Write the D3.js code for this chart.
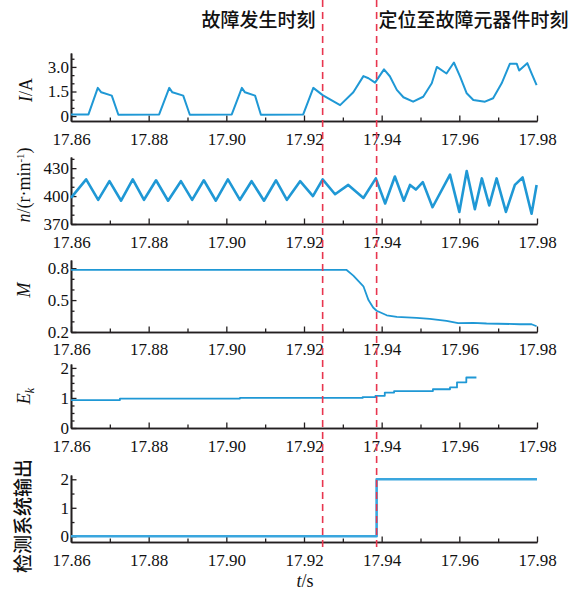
<!DOCTYPE html>
<html>
<head>
<meta charset="utf-8">
<script src="https://cdn.jsdelivr.net/npm/d3@7"></script>
<style>
body { margin: 0; background: #fff; }
</style>
</head>
<body>
<svg></svg>
<script>
var xTicks = [17.86, 17.88, 17.90, 17.92, 17.94, 17.96, 17.98];
var xMinor = [17.87, 17.89, 17.91, 17.93, 17.95, 17.97];
var faultTime = 17.9248, locateTime = 17.9387;

// [t, value]
var currentPts = [
    [17.8600, 0.10], [17.8645, 0.10], [17.8669, 1.72], [17.8678, 1.45], [17.8705, 1.25], [17.8722, 0.08],
    [17.8827, 0.10], [17.8853, 1.72], [17.8861, 1.45], [17.8889, 1.25], [17.8906, 0.08],
    [17.9014, 0.10], [17.9040, 1.72], [17.9048, 1.45], [17.9074, 1.25], [17.9089, 0.08],
    [17.9198, 0.10], [17.9224, 1.72], [17.9248, 1.28], [17.9258, 1.14], [17.9293, 0.67],
    [17.9327, 1.45], [17.9353, 2.44], [17.9366, 2.31], [17.9383, 2.04], [17.9406, 2.85],
    [17.9421, 2.43], [17.9439, 1.60], [17.9456, 1.15], [17.9481, 0.88], [17.9507, 1.18],
    [17.9529, 2.00], [17.9542, 3.00], [17.9567, 2.60], [17.9586, 3.27], [17.9602, 2.41],
    [17.9619, 1.39], [17.9636, 0.98], [17.9666, 0.88], [17.9687, 1.09], [17.9709, 2.00],
    [17.9730, 3.19], [17.9748, 3.19], [17.9754, 2.78], [17.9775, 3.23], [17.9786, 2.60],
    [17.9799, 1.89]
];

var speedPts = [
    [17.8600, 398], [17.8639, 418], [17.8670, 396], [17.8699, 416], [17.8729, 395],
    [17.8759, 418], [17.8788, 396], [17.8819, 417], [17.8850, 395], [17.8883, 416],
    [17.8912, 396], [17.8942, 417], [17.8973, 395], [17.9004, 418], [17.9035, 396],
    [17.9065, 416], [17.9097, 395], [17.9128, 417], [17.9156, 396], [17.9190, 416],
    [17.9223, 400], [17.9248, 418], [17.9280, 402], [17.9314, 412], [17.9353, 398],
    [17.9385, 419], [17.9409, 392], [17.9434, 421], [17.9457, 395], [17.9473, 412],
    [17.9488, 407], [17.9506, 415], [17.9531, 388], [17.9576, 423], [17.9600, 383],
    [17.9619, 427], [17.9640, 386], [17.9658, 419], [17.9677, 390], [17.9696, 419],
    [17.9720, 383], [17.9743, 412], [17.9763, 420], [17.9786, 381], [17.9799, 412]
];

var mPts = [
    [17.8600, 0.785], [17.9309, 0.785], [17.9327, 0.73], [17.9353, 0.63], [17.9366, 0.50],
    [17.9378, 0.43], [17.9387, 0.40], [17.9413, 0.357], [17.9439, 0.342], [17.9490, 0.333],
    [17.9524, 0.323], [17.9567, 0.305], [17.9597, 0.283], [17.9636, 0.286], [17.9670, 0.280],
    [17.9756, 0.273], [17.9786, 0.273], [17.9799, 0.254]
];

var ekPts = [
    [17.8600, 0.93], [17.8726, 0.98], [17.9035, 1.00], [17.9351, 1.03], [17.9384, 1.07],
    [17.9408, 1.18], [17.9432, 1.23], [17.9532, 1.29], [17.9576, 1.35], [17.9594, 1.52],
    [17.9618, 1.68], [17.9644, 1.68]
];

var outputPts = [[17.8600, 0], [17.9387, 2], [17.9800, 2]];

var svgWidth = 583, svgHeight = 595, left = 71, right = 537;
var blue = '#1f98d5', axisColor = '#231f20';
var serif = '"Liberation Serif", "Times New Roman", Times, "DejaVu Serif", serif';
var cjk = '"Noto Sans CJK SC", sans-serif';

var svg = d3.select('svg')
    .attr('width', svgWidth)
    .attr('height', svgHeight)
    .style('background-color', 'white');

var x = d3.scaleLinear().domain([17.86, 17.98]).range([left, right]);

var panels = [
    { top: 53, bottom: 121, pad: 12, domain: [-0.3, 3.85], ticks: [0, 1.5, 3.0], minor: [0.5, 1, 2, 2.5, 3.5],
      fmt: function(d) { return d === 0 ? '0' : d.toFixed(1); }, data: currentPts, width: 2, curve: d3.curveLinear },
    { top: 157, bottom: 224, pad: 12, domain: [370, 442], ticks: [370, 400, 430], minor: [380, 390, 410, 420, 440],
      fmt: d3.format('d'), data: speedPts, width: 2.6, curve: d3.curveLinear },
    { top: 260, bottom: 332, pad: 11, domain: [0.2, 0.877], ticks: [0.2, 0.5, 0.8], minor: [0.3, 0.4, 0.6, 0.7],
      fmt: d3.format('.1f'), data: mPts, width: 1.8, curve: d3.curveLinear },
    { top: 364, bottom: 428, pad: 12, domain: [0, 2.13], ticks: [0, 1, 2], minor: [0.25, 0.5, 0.75, 1.25, 1.5, 1.75],
      fmt: d3.format('d'), data: ekPts, width: 1.8, curve: d3.curveStepAfter },
    { top: 475, bottom: 542, pad: 12, domain: [-0.2, 2.15], ticks: [0, 1, 2], minor: [0.5, 1.5],
      fmt: d3.format('d'), data: outputPts, width: 2.6, curve: d3.curveStepAfter, color: '#3aa6de' }
];

panels.forEach(function(p) {
    var y = d3.scaleLinear().domain(p.domain).range([p.bottom, p.top]);
    var g = svg.append('g');

    // x axis, ticks pointing up
    g.append('g')
        .attr('transform', 'translate(0,' + p.bottom + ')')
        .call(d3.axisBottom(x).tickValues(xMinor).tickSizeInner(-3.5).tickSizeOuter(0).tickFormat(''));
    g.append('g')
        .attr('transform', 'translate(0,' + p.bottom + ')')
        .call(d3.axisBottom(x).tickValues(xTicks).tickSizeInner(-5.5).tickSizeOuter(0)
            .tickPadding(p.pad).tickFormat(d3.format('.2f')));

    // y axis, ticks pointing right
    g.append('g')
        .attr('transform', 'translate(' + left + ',0)')
        .call(d3.axisLeft(y).tickValues(p.minor).tickSizeInner(-3.5).tickSizeOuter(0).tickFormat(''));
    g.append('g')
        .attr('transform', 'translate(' + left + ',0)')
        .call(d3.axisLeft(y).tickValues(p.ticks).tickSizeInner(-5.5).tickSizeOuter(0)
            .tickPadding(2).tickFormat(p.fmt));

    g.selectAll('g').attr('font-family', null);
    g.selectAll('.domain').attr('stroke', axisColor).attr('stroke-width', 1.6);
    g.selectAll('.tick line').attr('stroke', axisColor).attr('stroke-width', 1.3);
    g.selectAll('.tick text')
        .attr('fill', '#111')
        .attr('font-family', serif)
        .attr('font-size', 17);

    var line = d3.line()
        .x(function(d) { return x(d[0]); })
        .y(function(d) { return y(d[1]); })
        .curve(p.curve);

    g.append('path')
        .datum(p.data)
        .attr('d', line)
        .attr('fill', 'none')
        .attr('stroke', p.color || blue)
        .attr('stroke-width', p.width)
        .attr('stroke-linejoin', 'round');
});

// dashed time markers
[faultTime, locateTime].forEach(function(t) {
    svg.append('line')
        .attr('x1', x(t)).attr('x2', x(t))
        .attr('y1', 0).attr('y2', 550)
        .attr('stroke', '#e8364f')
        .attr('stroke-width', 1.6)
        .attr('stroke-dasharray', '7,5');
});

// top annotations
svg.append('text')
    .attr('x', x(faultTime) - 7).attr('y', 27)
    .attr('text-anchor', 'end')
    .attr('font-family', cjk).attr('font-size', 19).attr('font-weight', 500)
    .attr('fill', '#111')
    .text('故障发生时刻');
svg.append('text')
    .attr('x', x(locateTime) + 2).attr('y', 27)
    .attr('font-family', cjk).attr('font-size', 19).attr('font-weight', 500)
    .attr('fill', '#111')
    .text('定位至故障元器件时刻');

// y labels
function yLabel(cx, cy) {
    return svg.append('text')
        .attr('transform', 'translate(' + cx + ',' + cy + ') rotate(-90)')
        .attr('text-anchor', 'middle')
        .attr('fill', '#111')
        .attr('font-family', serif)
        .attr('font-size', 18);
}

var l1 = yLabel(32, 90);
l1.append('tspan').attr('font-style', 'italic').text('I');
l1.append('tspan').text('/A');

var l2 = yLabel(30, 185);
l2.append('tspan').attr('font-style', 'italic').text('n');
l2.append('tspan').text('/(r·min');
l2.append('tspan').attr('dy', -6).attr('font-size', 11).text('-1');
l2.append('tspan').attr('dy', 6).text(')');

var l3 = yLabel(30, 290);
l3.append('tspan').attr('font-style', 'italic').text('M');

var l4 = yLabel(30, 396);
l4.append('tspan').attr('font-style', 'italic').text('E');
l4.append('tspan').attr('dy', 4).attr('font-style', 'italic').attr('font-size', 12).text('k');

svg.append('text')
    .attr('transform', 'translate(30,516) rotate(-90)')
    .attr('text-anchor', 'middle')
    .attr('fill', '#111')
    .attr('font-family', cjk)
    .attr('font-size', 19)
    .attr('font-weight', 500)
    .text('检测系统输出');

// x title
var xt = svg.append('text')
    .attr('x', 305).attr('y', 587)
    .attr('text-anchor', 'middle')
    .attr('fill', '#111')
    .attr('font-family', serif)
    .attr('font-size', 18);
xt.append('tspan').attr('font-style', 'italic').text('t');
xt.append('tspan').text('/s');
</script>
</body>
</html>
